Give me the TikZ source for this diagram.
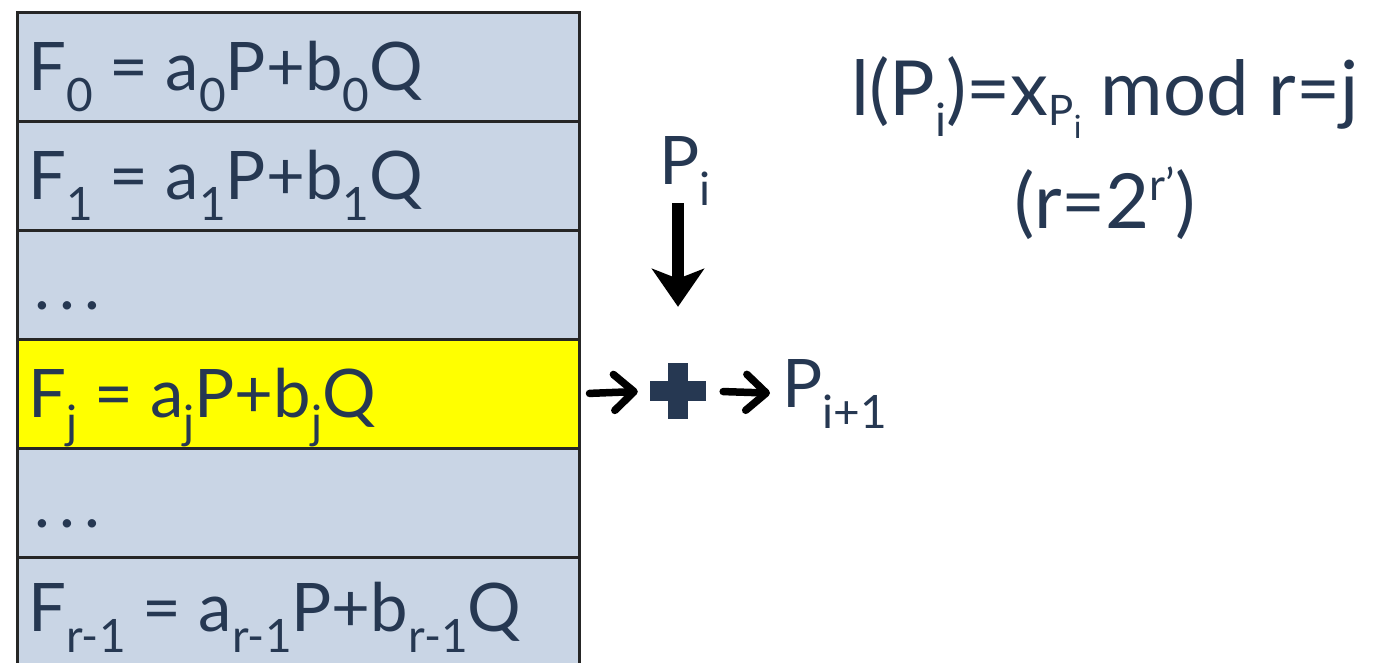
\documentclass[tikz,border=0pt]{standalone}
\usepackage{fontspec}
\setmainfont{Lato}
\usetikzlibrary{arrows.meta}
\definecolor{navy}{HTML}{263852}
\definecolor{rowblue}{HTML}{C9D5E5}
\definecolor{hl}{HTML}{FFFF00}
\newcommand{\lo}[1]{\raisebox{-21pt}{\fontsize{46}{46}\selectfont #1}}
\newcommand{\hi}[1]{\raisebox{28pt}{\fontsize{44}{44}\selectfont #1}}
\newcommand{\xsub}[1]{\raisebox{-10pt}{\fontsize{42}{42}\selectfont P\raisebox{-13pt}{\fontsize{32}{32}\selectfont #1}}}
\newcommand{\spdots}{\makebox[25pt][l]{.}\makebox[25pt][l]{.}.}
\tikzset{
  arr/.style={draw=black, line width=7.5pt, line cap=round,
    -{Straight Barb[length=20pt,width=36pt,line cap=round,line join=round]}},
  darr/.style={draw=black, line width=12pt,
    -{Stealth[length=38pt,width=52pt,inset=10pt]}},
}
\begin{document}
\begin{tikzpicture}[x=1pt,y=-1pt,
  cell/.style={draw=black!85, line width=2.5pt, fill=rowblue, minimum width=562pt,
    minimum height=109pt, anchor=north west, inner sep=0pt},
  txt/.style={text=navy, font=\fontsize{67}{67}\selectfont, anchor=base west, inner sep=0pt},
  ctxt/.style={text=navy, font=\fontsize{76}{76}\selectfont, anchor=base, inner sep=0pt},
]
\useasboundingbox (0,0) rectangle (1378,662);
\clip (0,0) rectangle (1378,662);
\node[cell] (r0) at (16,11) {};
\node[cell] (r1) at (16,120) {};
\node[cell] (r2) at (16,229) {};
\node[cell, fill=hl] (r3) at (16,338) {};
\node[cell] (r4) at (16,447) {};
\node[cell] (r5) at (16,556) {};

\node[txt] (t0) at (28,90) {F\lo{0} = a\lo{0}P+b\lo{0}Q};
\node[txt] (t1) at (28,199) {F\lo{1} = a\lo{1}P+b\lo{1}Q};
\node[txt] (t2) at (34,309) {\spdots};
\node[txt] (t3) at (28,417) {F\lo{j} = a\lo{j}P+b\lo{j}Q};
\node[txt] (t4) at (34,527) {\spdots};
\node[txt] (t5) at (28,631) {F\lo{r-1} = a\lo{r-1}P+b\lo{r-1}Q};

\node[minimum size=56pt, inner sep=0pt] (plus) at (678,391) {};
\fill[navy] ([xshift=-28pt,yshift=-10pt]plus.center) rectangle ([xshift=28pt,yshift=10pt]plus.center);
\fill[navy] ([xshift=-10pt,yshift=-28pt]plus.center) rectangle ([xshift=10pt,yshift=28pt]plus.center);

\node[txt] (pi) at (659,184) {P\lo{i}};
\node[txt] (pn) at (782,407) {P\lo{i+1}};

\draw[darr, shorten >=56pt] ([yshift=2pt]pi.south -| plus.north) -- (plus.north);
\draw[arr, shorten <=9pt, shorten >=12pt] (r3.east) -- (plus.west);
\draw[arr, shorten <=17pt, shorten >=12pt] (plus.east) -- (pn.west);

\node[ctxt] (f1) at (1105,115) {l(P\lo{i})=x\xsub{i} mod r=j};
\node[ctxt] (f2) at (1105,228) {(r=2\hi{r’})};
\end{tikzpicture}
\end{document}
